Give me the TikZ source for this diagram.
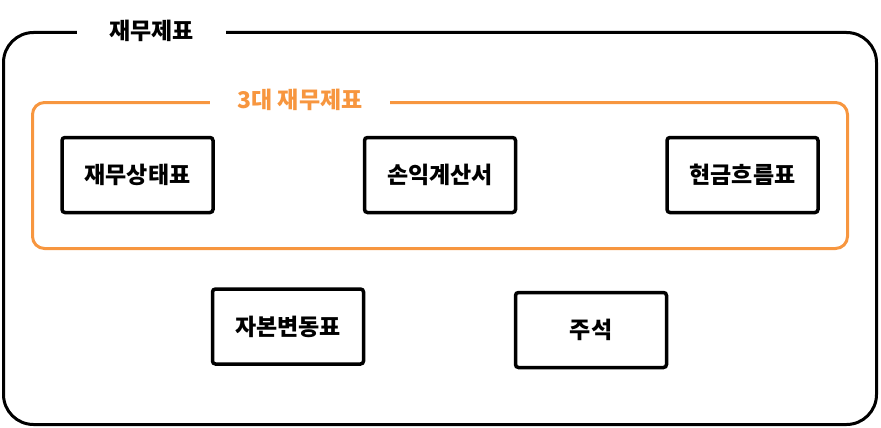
\documentclass[tikz,border=0pt]{standalone}
\usepackage{fontspec}
\setmainfont{Noto Sans CJK KR}
\usepackage{tikz}
\usetikzlibrary{positioning}
\definecolor{hiorange}{HTML}{F7963F}
\definecolor{inkblack}{HTML}{000000}

\begin{document}
\begin{tikzpicture}[
  x=1pt,y=-1pt,
  font=\bfseries\fontsize{23}{26}\selectfont,
  frame/.style={draw=inkblack,line width=3pt,rounded corners=30pt,inner sep=0pt},
  groupframe/.style={draw=hiorange,line width=3pt,rounded corners=12pt,inner sep=0pt},
  titletag/.style={fill=white,inner xsep=32pt,inner ysep=2pt},
  item/.style={draw=inkblack,line width=3.5pt,rounded corners=3pt,fill=white,minimum width=151pt,minimum height=75pt,align=center}
]
\useasboundingbox (0,0) rectangle (881,428);
% outer frame and the group of three
\node[frame,minimum width=873pt,minimum height=392pt] (all) at (440,228.5) {};
\node[titletag] (alltitle) at (151.5,31) {재무제표};
\node[groupframe,minimum width=815pt,minimum height=146pt] (three) at (440,175.5) {};
\node[titletag,text=hiorange,inner xsep=27pt] (threetitle) at (300,100) {3대 재무제표};

\node[item] (bs) at (137.5,175) {재무상태표};
\node[item] (is) at (440,175) {손익계산서};
\node[item] (cf) at (742.5,175) {현금흐름표};
\node[item] (ce) at (288,326.5) {자본변동표};
\node[item] (notes) at (591,330) {주석};
\end{tikzpicture}
\end{document}
